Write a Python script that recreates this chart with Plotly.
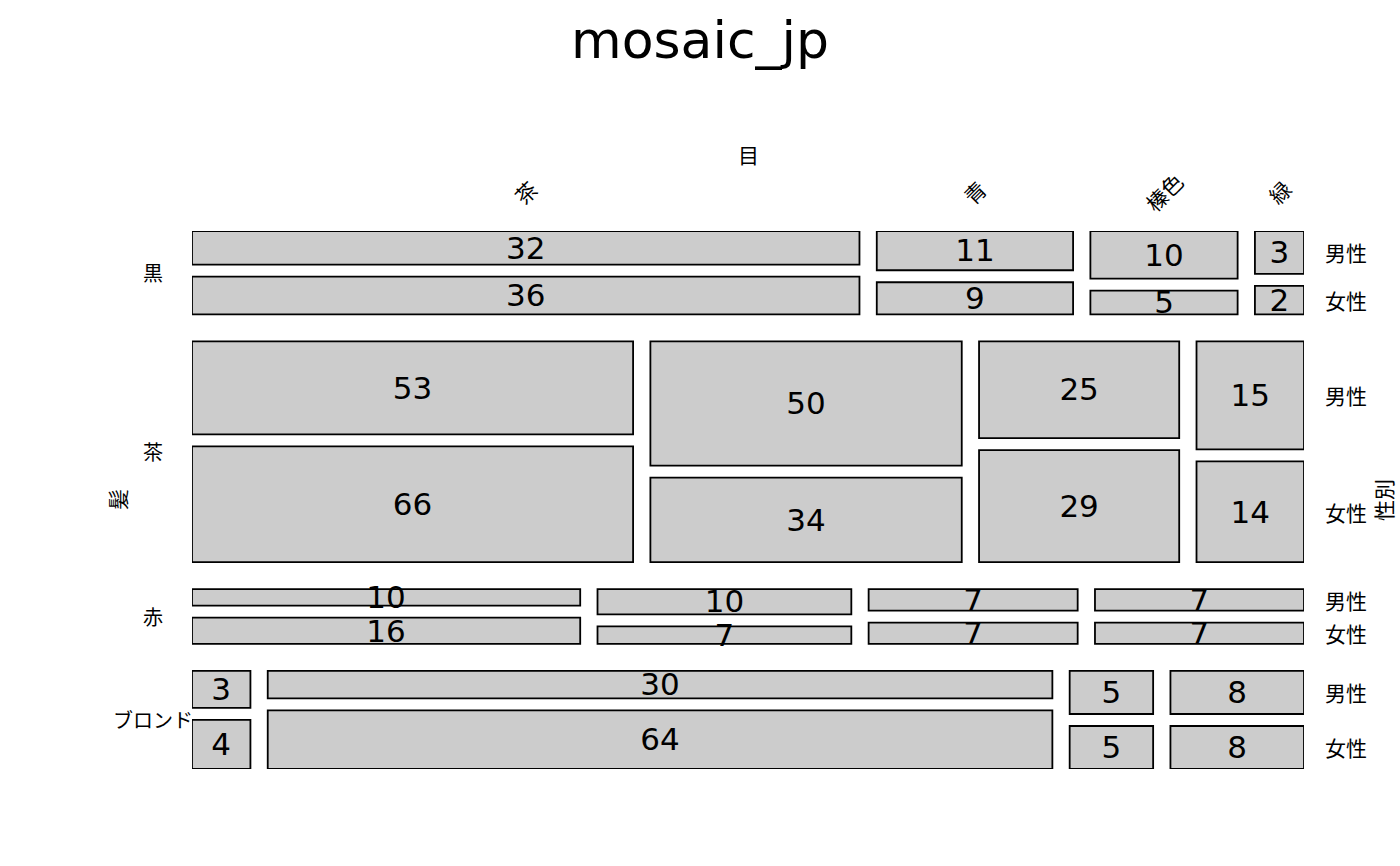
import plotly.graph_objects as go

# ---- data (HairEyeColor style) ----
hair = ["黒", "茶", "赤", "ブロンド"]
eye = ["茶", "青", "榛色", "緑"]
sex = ["男性", "女性"]
male = [
    [32, 11, 10, 3],
    [53, 50, 25, 15],
    [10, 10, 7, 7],
    [3, 30, 5, 8],
]
female = [
    [36, 9, 5, 2],
    [66, 34, 29, 14],
    [16, 7, 7, 7],
    [4, 64, 5, 8],
]
title_text = "mosaic_jp"
hair_title = "髪"
eye_title = "目"
sex_title = "性別"

# ---- layout constants (pixels) ----
W, H = 1400, 866
L, R, T, B = 192, 96, 231, 97
PW, PH = W - L - R, H - T - B
GX = 17.3 / PW      # gap between eye columns
GY = 27.0 / PH      # gap between hair rows
GS = 12.0 / PH      # gap between sexes
TXT_SHIFT = 3.0 / PH

row_tot = [sum(m) + sum(f) for m, f in zip(male, female)]
grand = sum(row_tot)
row_content = 1 - GY * (len(hair) - 1)

shapes = []
tx, ty, tt = [], [], []
annotations = []
CJK = "Noto Sans CJK JP"
LAB = 21


def lab(x, y, text, angle=0, size=LAB):
    # x: fraction of plot width from left; y: fraction of plot height from top
    return dict(x=x, y=1 - y, xref="paper", yref="paper", text=text,
                showarrow=False, textangle=angle,
                font=dict(family=CJK, size=size, color="black"),
                xanchor="center", yanchor="middle")


y0 = 0.0
for i, h in enumerate(hair):
    rh = row_content * row_tot[i] / grand
    col_content = 1 - GX * (len(eye) - 1)
    x0 = 0.0
    for j, e in enumerate(eye):
        m, f = male[i][j], female[i][j]
        cw = col_content * (m + f) / row_tot[i]
        inner = rh - GS
        mh = inner * m / (m + f)
        boxes = [(y0, y0 + mh, m), (y0 + mh + GS, y0 + rh, f)]
        for k, (a, b, v) in enumerate(boxes):
            shapes.append(dict(type="rect", xref="x", yref="y", x0=x0, x1=x0 + cw,
                               y0=a, y1=b, fillcolor="#cccccc",
                               line=dict(color="black", width=1.8), layer="below"))
            tx.append(x0 + cw / 2)
            ty.append((a + b) / 2 + TXT_SHIFT)
            tt.append(str(v))
            if j == len(eye) - 1:
                annotations.append(lab((1346 - L) / PW, (a + b) / 2, sex[k]))
        if i == 0:
            annotations.append(lab(x0 + cw / 2, (192 - T) / PH, e, -45))
        x0 += cw + GX
    annotations.append(lab((153 - L) / PW, y0 + rh / 2, h, size=20))
    y0 += rh + GY

annotations.append(lab(0.5, (154 - T) / PH, eye_title))
annotations.append(lab((117 - L) / PW, 0.5, hair_title, -90))
annotations.append(lab((1383 - L) / PW, 0.5, sex_title, -90))

fig = go.Figure()
fig.add_trace(go.Scatter(x=tx, y=ty, text=tt, mode="text", hoverinfo="skip",
                         textposition="middle center", cliponaxis=False,
                         textfont=dict(family="DejaVu Sans", size=31, color="black"),
                         showlegend=False))
fig.update_layout(
    width=W, height=H,
    margin=dict(l=L, r=R, t=T, b=B, pad=0),
    paper_bgcolor="white", plot_bgcolor="white",
    shapes=shapes, annotations=annotations,
    title=dict(text=title_text, x=0.5, xref="container", xanchor="center",
               y=1 - 40 / H, yref="container", yanchor="middle",
               font=dict(family="DejaVu Sans", size=52, color="black")),
    xaxis=dict(range=[0, 1], visible=False, fixedrange=True),
    yaxis=dict(range=[1, 0], visible=False, fixedrange=True),
    showlegend=False,
)
fig.write_html("out.html")
